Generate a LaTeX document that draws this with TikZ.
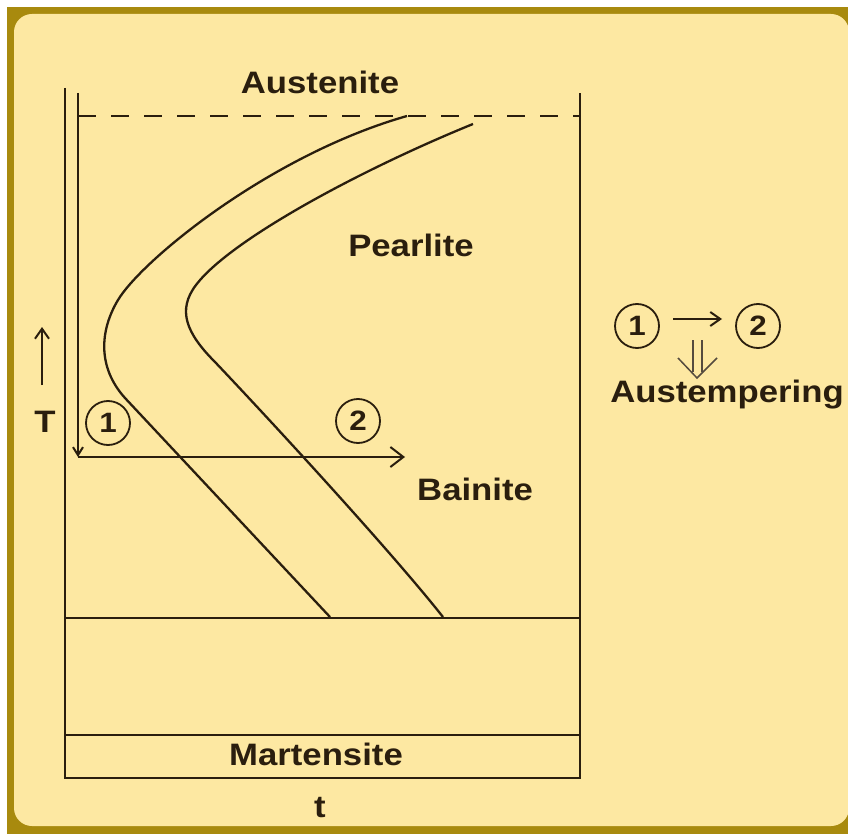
\documentclass[tikz,border=0pt]{standalone}
\usepackage{fontspec}
\newfontfamily\lab[FakeStretch=1.12]{Liberation Sans}
\usetikzlibrary{arrows.meta}
\definecolor{gold}{HTML}{A88A0E}
\definecolor{paper}{HTML}{FDE8A2}
\definecolor{ink}{HTML}{2A1E0E}
\begin{document}
\begin{tikzpicture}[x=1pt,y=-1pt,
  line/.style={draw=ink, line width=2.2pt},
  curve/.style={draw=ink, line width=2.3pt},
  lbl/.style={font=\lab\bfseries\fontsize{31}{31}\selectfont, text=ink, inner sep=0pt, anchor=base},
  num/.style={circle, draw=ink, line width=1.8pt, minimum size=44pt, inner sep=0pt,
    font=\lab\bfseries\fontsize{28}{28}\selectfont, text=ink},
  bigarr/.style={-{Straight Barb[length=13pt,width=20pt,line width=2pt]}},
  smallarr/.style={-{Straight Barb[length=8pt,width=10pt,line width=2pt]}},
  tarr/.style={-{Straight Barb[length=10pt,width=14pt,line width=2pt]}}
]
\useasboundingbox (0,0) rectangle (848,834);
\fill[white] (0,0) rectangle (848,834);
\fill[gold] (7,7) rectangle (848,834);
\fill[paper, rounded corners=18pt] (14,14) rectangle (849,826);

% frame coordinates
\coordinate (tl) at (65,88);
\coordinate (bl) at (65,778);
\coordinate (br) at (580,778);
\coordinate (tr) at (580,93);
\coordinate (bsL) at (65,618);
\coordinate (bsR) at (580,618);
\coordinate (msL) at (65,735);
\coordinate (msR) at (580,735);
\coordinate (dL) at (78,116);
\coordinate (dR) at (580,116);
\coordinate (pv) at (78,93);
\coordinate (pc) at (78,457);
\coordinate (ph) at (405,457);

\draw[line] (tl) -- (bl) -- (br) -- (tr);
\draw[line] (bsL) -- (bsR);
\draw[line] (msL) -- (msR);
\draw[draw=ink, line width=2pt, dash pattern=on 18pt off 15pt] (dL) -- (dR);

% cooling path
\draw[line, smallarr] (pv) -- (pc);
\draw[line, bigarr] (pc) -- (ph);

% C-curves
\coordinate (s1) at (407,116);
\coordinate (k1) at (118,300);
\coordinate (m1) at (125,398);
\coordinate (e1) at (330,617);
\draw[curve] (s1) .. controls (270,155) and (142,260) .. (k1)
  .. controls (100,330) and (97,367) .. (m1) -- (e1);
\coordinate (s2) at (473,124);
\coordinate (k2) at (196,285);
\coordinate (m2) at (215,362);
\coordinate (e2) at (443,617);
\draw[curve] (s2) .. controls (360,170) and (230,240) .. (k2)
  .. controls (177,310) and (186,333) .. (m2) .. controls (270,420) and (390,550) .. (e2);

% labels
\node[lbl] (aus) at (320,94) {Austenite};
\node[lbl] (pea) at (411,257) {Pearlite};
\node[lbl, anchor=base west] (bai) at (417,500) {Bainite};
\node[lbl] (mar) at (316,765) {Martensite};
\node[lbl] (tt) at (320,817) {t};
\node[lbl] (TT) at (45,432) {T};
\coordinate (Ta) at (42,385);
\coordinate (Tb) at (42,327);
\draw[line, tarr] (Ta) -- (Tb);

\node[num] (n1) at (108,423) {1};
\node[num] (n2) at (358,421) {2};

% legend
\node[num] (l1) at (637,326) {1};
\node[num] (l2) at (758,326) {2};
\coordinate (la) at (673,319);
\coordinate (lb) at (722,319);
\draw[line, tarr] (la) -- (lb);
\coordinate (d1a) at (693,340);
\coordinate (d1b) at (693,372);
\coordinate (d2a) at (702,340);
\coordinate (d2b) at (702,372);
\coordinate (va) at (678,358);
\coordinate (vt) at (697,378);
\coordinate (vb) at (717,358);
\draw[draw=ink!80, line width=1.5pt] (d1a) -- (d1b) (d2a) -- (d2b);
\draw[draw=ink!80, line width=1.5pt] (va) -- (vt) -- (vb);
\node[lbl] (aust) at (727,402) {Austempering};
\end{tikzpicture}
\end{document}
